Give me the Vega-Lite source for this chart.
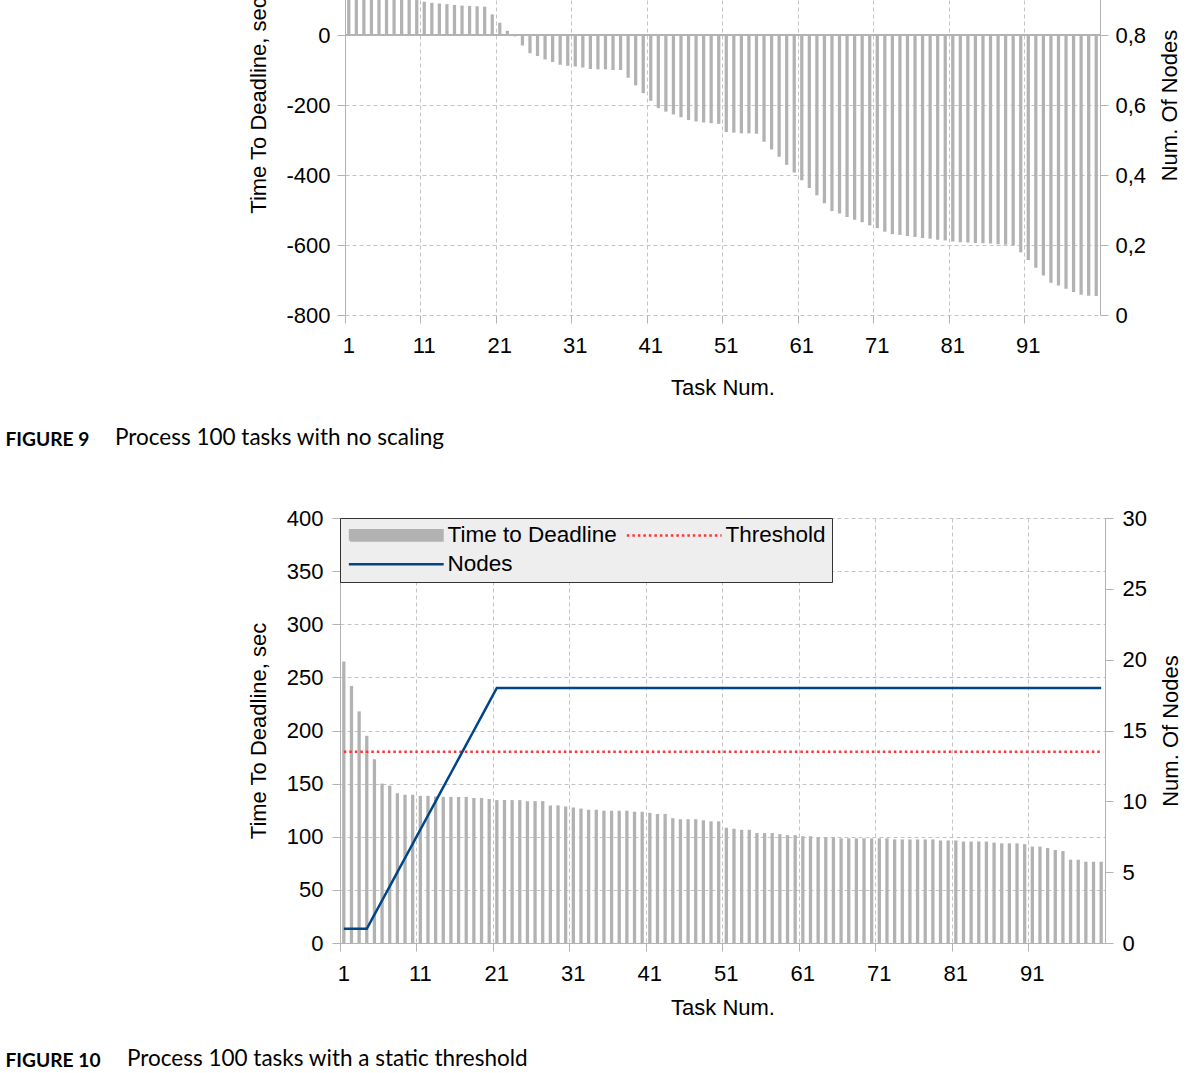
{
  "$schema": "https://vega.github.io/schema/vega-lite/v6.json",
  "background": "white",
  "padding": {"left": 5, "top": -116, "right": 5, "bottom": 5},
  "autosize": {"type": "pad"},
  "spacing": 203,
  "bounds": "flush",
  "center": true,
  "resolve": {"scale": {"color": "independent"}, "legend": {"color": "independent"}},
  "datasets": {
    "fig9": [
      {"task":1,"ttd":265,"nodes":1},{"task":2,"ttd":242,"nodes":1},{"task":3,"ttd":218,"nodes":1},{"task":4,"ttd":195,"nodes":1},{"task":5,"ttd":173,"nodes":1},
      {"task":6,"ttd":150,"nodes":1},{"task":7,"ttd":130,"nodes":1},{"task":8,"ttd":118,"nodes":1},{"task":9,"ttd":108,"nodes":1},{"task":10,"ttd":101,"nodes":1},
      {"task":11,"ttd":95,"nodes":1},{"task":12,"ttd":92,"nodes":1},{"task":13,"ttd":90,"nodes":1},{"task":14,"ttd":88,"nodes":1},{"task":15,"ttd":86,"nodes":1},
      {"task":16,"ttd":84,"nodes":1},{"task":17,"ttd":83,"nodes":1},{"task":18,"ttd":82,"nodes":1},{"task":19,"ttd":81,"nodes":1},{"task":20,"ttd":59,"nodes":1},
      {"task":21,"ttd":35,"nodes":1},{"task":22,"ttd":12,"nodes":1},{"task":23,"ttd":-4,"nodes":1},{"task":24,"ttd":-30,"nodes":1},{"task":25,"ttd":-52,"nodes":1},
      {"task":26,"ttd":-60,"nodes":1},{"task":27,"ttd":-70,"nodes":1},{"task":28,"ttd":-77,"nodes":1},{"task":29,"ttd":-85,"nodes":1},{"task":30,"ttd":-88,"nodes":1},
      {"task":31,"ttd":-90,"nodes":1},{"task":32,"ttd":-93,"nodes":1},{"task":33,"ttd":-97,"nodes":1},{"task":34,"ttd":-98,"nodes":1},{"task":35,"ttd":-98,"nodes":1},
      {"task":36,"ttd":-100,"nodes":1},{"task":37,"ttd":-100,"nodes":1},{"task":38,"ttd":-122,"nodes":1},{"task":39,"ttd":-144,"nodes":1},{"task":40,"ttd":-166,"nodes":1},
      {"task":41,"ttd":-188,"nodes":1},{"task":42,"ttd":-209,"nodes":1},{"task":43,"ttd":-219,"nodes":1},{"task":44,"ttd":-227,"nodes":1},{"task":45,"ttd":-235,"nodes":1},
      {"task":46,"ttd":-243,"nodes":1},{"task":47,"ttd":-247,"nodes":1},{"task":48,"ttd":-250,"nodes":1},{"task":49,"ttd":-252,"nodes":1},{"task":50,"ttd":-254,"nodes":1},
      {"task":51,"ttd":-277,"nodes":1},{"task":52,"ttd":-279,"nodes":1},{"task":53,"ttd":-281,"nodes":1},{"task":54,"ttd":-281,"nodes":1},{"task":55,"ttd":-282,"nodes":1},
      {"task":56,"ttd":-305,"nodes":1},{"task":57,"ttd":-327,"nodes":1},{"task":58,"ttd":-348,"nodes":1},{"task":59,"ttd":-371,"nodes":1},{"task":60,"ttd":-393,"nodes":1},
      {"task":61,"ttd":-415,"nodes":1},{"task":62,"ttd":-437,"nodes":1},{"task":63,"ttd":-458,"nodes":1},{"task":64,"ttd":-481,"nodes":1},{"task":65,"ttd":-503,"nodes":1},
      {"task":66,"ttd":-510,"nodes":1},{"task":67,"ttd":-520,"nodes":1},{"task":68,"ttd":-528,"nodes":1},{"task":69,"ttd":-535,"nodes":1},{"task":70,"ttd":-544,"nodes":1},
      {"task":71,"ttd":-552,"nodes":1},{"task":72,"ttd":-562,"nodes":1},{"task":73,"ttd":-569,"nodes":1},{"task":74,"ttd":-571,"nodes":1},{"task":75,"ttd":-574,"nodes":1},
      {"task":76,"ttd":-577,"nodes":1},{"task":77,"ttd":-580,"nodes":1},{"task":78,"ttd":-582,"nodes":1},{"task":79,"ttd":-585,"nodes":1},{"task":80,"ttd":-587,"nodes":1},
      {"task":81,"ttd":-590,"nodes":1},{"task":82,"ttd":-592,"nodes":1},{"task":83,"ttd":-593,"nodes":1},{"task":84,"ttd":-594,"nodes":1},{"task":85,"ttd":-595,"nodes":1},
      {"task":86,"ttd":-596,"nodes":1},{"task":87,"ttd":-598,"nodes":1},{"task":88,"ttd":-599,"nodes":1},{"task":89,"ttd":-601,"nodes":1},{"task":90,"ttd":-621,"nodes":1},
      {"task":91,"ttd":-643,"nodes":1},{"task":92,"ttd":-665,"nodes":1},{"task":93,"ttd":-687,"nodes":1},{"task":94,"ttd":-708,"nodes":1},{"task":95,"ttd":-716,"nodes":1},
      {"task":96,"ttd":-725,"nodes":1},{"task":97,"ttd":-734,"nodes":1},{"task":98,"ttd":-742,"nodes":1},{"task":99,"ttd":-745,"nodes":1},{"task":100,"ttd":-746,"nodes":1}
    ],
    "fig10": [
      {"task":1,"ttd":265,"threshold":180,"nodes":1},{"task":2,"ttd":242,"threshold":180,"nodes":1},{"task":3,"ttd":218,"threshold":180,"nodes":1},{"task":4,"ttd":195,"threshold":180,"nodes":1},{"task":5,"ttd":173,"threshold":180,"nodes":2},
      {"task":6,"ttd":150,"threshold":180,"nodes":3},{"task":7,"ttd":148,"threshold":180,"nodes":4},{"task":8,"ttd":141,"threshold":180,"nodes":5},{"task":9,"ttd":139.5,"threshold":180,"nodes":6},{"task":10,"ttd":139.5,"threshold":180,"nodes":7},
      {"task":11,"ttd":138.5,"threshold":180,"nodes":8},{"task":12,"ttd":138.5,"threshold":180,"nodes":9},{"task":13,"ttd":138,"threshold":180,"nodes":10},{"task":14,"ttd":137.5,"threshold":180,"nodes":11},{"task":15,"ttd":137.5,"threshold":180,"nodes":12},
      {"task":16,"ttd":137.5,"threshold":180,"nodes":13},{"task":17,"ttd":137.5,"threshold":180,"nodes":14},{"task":18,"ttd":136.5,"threshold":180,"nodes":15},{"task":19,"ttd":136.5,"threshold":180,"nodes":16},{"task":20,"ttd":135.5,"threshold":180,"nodes":17},
      {"task":21,"ttd":134.5,"threshold":180,"nodes":18},{"task":22,"ttd":134.5,"threshold":180,"nodes":18},{"task":23,"ttd":134.5,"threshold":180,"nodes":18},{"task":24,"ttd":134.5,"threshold":180,"nodes":18},{"task":25,"ttd":133.5,"threshold":180,"nodes":18},
      {"task":26,"ttd":133.5,"threshold":180,"nodes":18},{"task":27,"ttd":133.5,"threshold":180,"nodes":18},{"task":28,"ttd":129.5,"threshold":180,"nodes":18},{"task":29,"ttd":129.5,"threshold":180,"nodes":18},{"task":30,"ttd":128.5,"threshold":180,"nodes":18},
      {"task":31,"ttd":127.5,"threshold":180,"nodes":18},{"task":32,"ttd":126.5,"threshold":180,"nodes":18},{"task":33,"ttd":125.5,"threshold":180,"nodes":18},{"task":34,"ttd":125.5,"threshold":180,"nodes":18},{"task":35,"ttd":124.5,"threshold":180,"nodes":18},
      {"task":36,"ttd":124.5,"threshold":180,"nodes":18},{"task":37,"ttd":124.5,"threshold":180,"nodes":18},{"task":38,"ttd":124.5,"threshold":180,"nodes":18},{"task":39,"ttd":123.5,"threshold":180,"nodes":18},{"task":40,"ttd":123.5,"threshold":180,"nodes":18},
      {"task":41,"ttd":122.5,"threshold":180,"nodes":18},{"task":42,"ttd":121.5,"threshold":180,"nodes":18},{"task":43,"ttd":121.5,"threshold":180,"nodes":18},{"task":44,"ttd":117.5,"threshold":180,"nodes":18},{"task":45,"ttd":116.5,"threshold":180,"nodes":18},
      {"task":46,"ttd":116.5,"threshold":180,"nodes":18},{"task":47,"ttd":116.5,"threshold":180,"nodes":18},{"task":48,"ttd":115.5,"threshold":180,"nodes":18},{"task":49,"ttd":114.5,"threshold":180,"nodes":18},{"task":50,"ttd":114.5,"threshold":180,"nodes":18},
      {"task":51,"ttd":108.5,"threshold":180,"nodes":18},{"task":52,"ttd":107.5,"threshold":180,"nodes":18},{"task":53,"ttd":106.5,"threshold":180,"nodes":18},{"task":54,"ttd":106.5,"threshold":180,"nodes":18},{"task":55,"ttd":103.5,"threshold":180,"nodes":18},
      {"task":56,"ttd":103.5,"threshold":180,"nodes":18},{"task":57,"ttd":103.5,"threshold":180,"nodes":18},{"task":58,"ttd":102.5,"threshold":180,"nodes":18},{"task":59,"ttd":101.5,"threshold":180,"nodes":18},{"task":60,"ttd":101.5,"threshold":180,"nodes":18},
      {"task":61,"ttd":100.5,"threshold":180,"nodes":18},{"task":62,"ttd":100.5,"threshold":180,"nodes":18},{"task":63,"ttd":99.5,"threshold":180,"nodes":18},{"task":64,"ttd":99.5,"threshold":180,"nodes":18},{"task":65,"ttd":99.5,"threshold":180,"nodes":18},
      {"task":66,"ttd":98.5,"threshold":180,"nodes":18},{"task":67,"ttd":98.5,"threshold":180,"nodes":18},{"task":68,"ttd":98.5,"threshold":180,"nodes":18},{"task":69,"ttd":98.5,"threshold":180,"nodes":18},{"task":70,"ttd":98.5,"threshold":180,"nodes":18},
      {"task":71,"ttd":98.5,"threshold":180,"nodes":18},{"task":72,"ttd":98.5,"threshold":180,"nodes":18},{"task":73,"ttd":97.5,"threshold":180,"nodes":18},{"task":74,"ttd":97.5,"threshold":180,"nodes":18},{"task":75,"ttd":97.5,"threshold":180,"nodes":18},
      {"task":76,"ttd":97.5,"threshold":180,"nodes":18},{"task":77,"ttd":97.5,"threshold":180,"nodes":18},{"task":78,"ttd":97.5,"threshold":180,"nodes":18},{"task":79,"ttd":96.5,"threshold":180,"nodes":18},{"task":80,"ttd":96.5,"threshold":180,"nodes":18},
      {"task":81,"ttd":96.5,"threshold":180,"nodes":18},{"task":82,"ttd":95.5,"threshold":180,"nodes":18},{"task":83,"ttd":95.5,"threshold":180,"nodes":18},{"task":84,"ttd":95.5,"threshold":180,"nodes":18},{"task":85,"ttd":95.5,"threshold":180,"nodes":18},
      {"task":86,"ttd":94.5,"threshold":180,"nodes":18},{"task":87,"ttd":93.8,"threshold":180,"nodes":18},{"task":88,"ttd":93.8,"threshold":180,"nodes":18},{"task":89,"ttd":93.8,"threshold":180,"nodes":18},{"task":90,"ttd":93,"threshold":180,"nodes":18},
      {"task":91,"ttd":90.7,"threshold":180,"nodes":18},{"task":92,"ttd":90.7,"threshold":180,"nodes":18},{"task":93,"ttd":89.4,"threshold":180,"nodes":18},{"task":94,"ttd":87.5,"threshold":180,"nodes":18},{"task":95,"ttd":86.6,"threshold":180,"nodes":18},
      {"task":96,"ttd":78.4,"threshold":180,"nodes":18},{"task":97,"ttd":78.4,"threshold":180,"nodes":18},{"task":98,"ttd":76.5,"threshold":180,"nodes":18},{"task":99,"ttd":76.5,"threshold":180,"nodes":18},{"task":100,"ttd":76.5,"threshold":180,"nodes":18}
    ]
  },
  "vconcat": [
    {
      "width": 755,
      "height": 420,
      "data": {"name": "fig9"},
      "title": {"text": "Process 100 tasks with no scaling", "orient": "bottom", "anchor": "start", "frame": "group", "dx": -230, "dy": -4, "offset": 0, "font": "Lato", "fontSize": 22.5, "fontWeight": "normal", "color": "#000000", "baseline": "alphabetic"},
      "layer": [
        {
          "layer": [
            {
              "mark": {"type": "bar", "color": "#b2b2b2", "width": {"band": 0.43}},
              "encoding": {
                "x": {"field": "task", "type": "ordinal", "scale": {"type": "band", "paddingInner": 0, "paddingOuter": 0},
                      "axis": {"orient": "bottom", "values": [1,11,21,31,41,51,61,71,81,91], "bandPosition": 0, "grid": true, "domain": false, "ticks": true, "labelAngle": 0, "labelPadding": 12, "title": "Task Num.", "titlePadding": 21}},
                "y": {"field": "ttd", "type": "quantitative", "scale": {"domain": [-800, 400], "nice": false, "zero": false},
                      "axis": {"orient": "left", "values": [-800,-600,-400,-200,0,200,400], "grid": true, "labelPadding": 7, "labelExpr": "datum.value < 0 ? '-' + abs(datum.value) : '' + datum.value", "title": "Time To Deadline, sec", "titlePadding": 15}}
              }
            },
            {
              "mark": {"type": "rule", "color": "#b3b3b3", "strokeWidth": 1.5},
              "encoding": {"y": {"datum": 0}}
            }
          ]
        },
        {
          "mark": {"type": "line", "color": "#004586", "strokeWidth": 2.5},
          "encoding": {
            "x": {"field": "task", "type": "ordinal", "scale": {"type": "band", "paddingInner": 0, "paddingOuter": 0},
                  "axis": {"orient": "top", "title": "FIGURE 9", "labels": false, "ticks": false, "domain": false, "grid": false, "titleX": -340, "titleY": 550, "titleAlign": "left", "titleBaseline": "alphabetic", "titleAngle": 0, "titleFont": "Lato", "titleFontSize": 19.2, "titleFontWeight": "bold"}},
            "y": {"field": "nodes", "type": "quantitative", "scale": {"domain": [0, 1.2], "nice": false},
                  "axis": {"orient": "right", "values": [0,0.2,0.4,0.6,0.8,1,1.2], "grid": false, "labelPadding": 7, "labelExpr": "datum.value == 0 ? '0' : replace(format(datum.value, '.1f'), '.', ',')", "title": "Num. Of Nodes", "titleAngle": 270, "titleBaseline": "top", "titlePadding": 14}}
          }
        }
      ],
      "resolve": {"scale": {"x": "independent", "y": "independent"}}
    },
    {
      "width": 765,
      "height": 425,
      "data": {"name": "fig10"},
      "title": {"text": "Process 100 tasks with a static threshold", "orient": "bottom", "anchor": "start", "frame": "group", "dx": -213, "dy": -4, "offset": 0, "font": "Lato", "fontSize": 22.5, "fontWeight": "normal", "color": "#000000", "baseline": "alphabetic"},
      "layer": [
        {
          "layer": [
            {
              "mark": {"type": "bar", "width": {"band": 0.43}},
              "encoding": {
                "x": {"field": "task", "type": "ordinal", "scale": {"type": "band", "paddingInner": 0, "paddingOuter": 0},
                      "axis": {"orient": "bottom", "values": [1,11,21,31,41,51,61,71,81,91], "bandPosition": 0, "grid": true, "domain": true, "ticks": true, "labelAngle": 0, "labelPadding": 12, "title": "Task Num.", "titlePadding": 13}},
                "y": {"field": "ttd", "type": "quantitative", "scale": {"domain": [0, 400], "nice": false},
                      "axis": {"orient": "left", "values": [0,50,100,150,200,250,300,350,400], "grid": true, "labelPadding": 9, "title": "Time To Deadline, sec", "titlePadding": 16}},
                "color": {"datum": "Time to Deadline", "type": "nominal",
                          "scale": {"domain": ["Time to Deadline", "Threshold", "Nodes"], "range": ["#b2b2b2", "#ff3333", "#004586"]},
                          "legend": {"orient": "top-left", "offset": 0, "title": null, "columns": 2, "direction": "horizontal", "fillColor": "#eeeeee", "strokeColor": "#333333", "padding": 6,
                                     "labelFont": "Liberation Sans", "labelFontSize": 22.5, "labelColor": "#000000", "labelLimit": 400,
                                     "symbolSize": 144, "symbolOffset": 39, "labelOffset": 40, "rowPadding": 6, "columnPadding": 4, "symbolStrokeWidth": 2.5,
                                     "encode": {"symbols": {
                                       "update": {
                                         "shape": {"signal": "datum.value === 'Time to Deadline' ? 'M-7.7,-0.85H7.7V0.85H-7.7Z' : 'M-7.9,0H7.9'"},
                                         "fill": {"signal": "datum.value === 'Time to Deadline' ? '#b2b2b2' : 'transparent'"},
                                         "stroke": {"signal": "datum.value === 'Time to Deadline' ? 'transparent' : (datum.value === 'Nodes' ? '#004586' : '#ff3333')"},
                                         "strokeDash": {"signal": "datum.value === 'Threshold' ? [2.5, 3] : [1, 0]"},
                                         "strokeWidth": {"value": 2.5},
                                         "opacity": {"value": 1}
                                       }
                                     }}}}
              }
            },
            {
              "mark": {"type": "line", "strokeWidth": 2.5, "strokeDash": [2.5, 3]},
              "encoding": {
                "x": {"field": "task", "type": "ordinal"},
                "y": {"field": "threshold", "type": "quantitative"},
                "color": {"datum": "Threshold", "type": "nominal"}
              }
            }
          ]
        },
        {
          "mark": {"type": "line", "strokeWidth": 2.5},
          "encoding": {
            "x": {"field": "task", "type": "ordinal", "scale": {"type": "band", "paddingInner": 0, "paddingOuter": 0},
                  "axis": {"orient": "top", "title": "FIGURE 10", "labels": false, "ticks": false, "domain": false, "grid": false, "titleX": -335, "titleY": 548, "titleAlign": "left", "titleBaseline": "alphabetic", "titleAngle": 0, "titleFont": "Lato", "titleFontSize": 19.2, "titleFontWeight": "bold"}},
            "y": {"field": "nodes", "type": "quantitative", "scale": {"domain": [0, 30], "nice": false},
                  "axis": {"orient": "right", "values": [0,5,10,15,20,25,30], "grid": false, "labelPadding": 9, "title": "Num. Of Nodes", "titleAngle": 270, "titleBaseline": "top", "titlePadding": 14}},
            "color": {"datum": "Nodes", "type": "nominal"}
          }
        }
      ],
      "resolve": {"scale": {"x": "independent", "y": "independent"}}
    }
  ],
  "config": {
    "font": "Liberation Sans",
    "view": {"stroke": null},
    "axis": {"labelFont": "Liberation Sans", "labelFontSize": 22, "labelColor": "#000000", "titleFont": "Liberation Sans", "titleFontSize": 22, "titleFontWeight": "normal", "titleColor": "#000000",
             "domainColor": "#b3b3b3", "domainWidth": 1, "tickColor": "#b3b3b3", "tickSize": 8, "tickWidth": 1,
             "gridColor": "#c4c4c4", "gridDash": [4, 3], "gridWidth": 1, "labelFlush": false, "labelOverlap": false, "labelBound": false}
  }
}
